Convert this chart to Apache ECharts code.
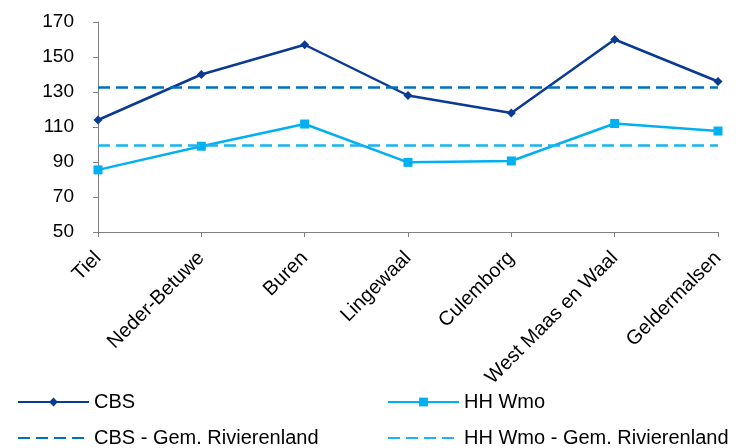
<!DOCTYPE html>
<html><head><meta charset="utf-8">
<script src="https://cdn.jsdelivr.net/npm/echarts@6/dist/echarts.min.js"></script>
<style>html,body{margin:0;padding:0;background:#fff}#c{width:746px;height:448px}</style>
</head><body><div id="c"></div>
<script>
const categories = ['Tiel','Neder-Betuwe','Buren','Lingewaal','Culemborg','West Maas en Waal','Geldermalsen'];
const cbs = [114, 140, 157, 128, 118, 160, 136];
const hhWmo = [85.5, 99, 111.7, 89.8, 90.6, 112, 107.7];
const cbsAvg = 132.9;
const hhWmoAvg = 99.4;
const yTicks = [50, 70, 90, 110, 130, 150, 170];
const seriesNames = ['CBS', 'HH Wmo', 'CBS - Gem. Rivierenland', 'HH Wmo - Gem. Rivierenland'];

const FONT = 'Liberation Sans, Arial, sans-serif';
const cDark = '#0b3a92', cLight = '#00b0f0', cDashDark = '#0070c0', cDashLight = '#1ab4f0';
const DASH = [12, 6];
const legendText = {fontSize: 20, color: '#000', fontFamily: FONT, lineHeight: 22};
function lg(name, left, top, hideSymbol) {
  return {
    orient: 'horizontal', left: left, top: top, itemWidth: 71, itemHeight: 11, itemGap: 0,
    padding: 0, textStyle: legendText,
    data: [hideSymbol ? {name: name, itemStyle: {opacity: 0}} : {name: name}]
  };
}
const chart = echarts.init(document.getElementById('c'));
chart.setOption({
  animation: false,
  textStyle: {fontFamily: FONT},
  grid: {left: 98, right: 28, top: 22, bottom: 216},
  xAxis: {
    type: 'category', data: categories, boundaryGap: false,
    axisLine: {lineStyle: {color: '#808080', width: 1}},
    axisTick: {show: true, length: 5, lineStyle: {color: '#808080'}},
    axisLabel: {rotate: 45, color: '#000', fontSize: 20, fontFamily: FONT, margin: 23, interval: 0}
  },
  yAxis: {
    type: 'value', min: yTicks[0], max: yTicks[yTicks.length-1], interval: 20,
    splitLine: {show: false},
    axisLine: {show: true, lineStyle: {color: '#808080', width: 1}},
    axisTick: {show: true, length: 5, inside: false, lineStyle: {color: '#808080'}},
    axisLabel: {color: '#000', fontSize: 19, fontFamily: FONT, margin: 24}
  },
  legend: [
    lg(seriesNames[0], 17, 391, false),
    lg(seriesNames[2], 17, 427, true),
    lg(seriesNames[1], 387, 391, false),
    lg(seriesNames[3], 387, 427, true)
  ],
  series: [
    {name: seriesNames[0], type: 'line', data: cbs, symbol: 'diamond', symbolSize: 9,
     lineStyle: {color: cDark, width: 2.5}, itemStyle: {color: cDark}},
    {name: seriesNames[1], type: 'line', data: hhWmo, symbol: 'rect', symbolSize: 9,
     lineStyle: {color: cLight, width: 2.5}, itemStyle: {color: cLight}},
    {name: seriesNames[2], type: 'line', data: [], symbol: 'none',
     lineStyle: {color: cDashDark, width: 2.5, type: DASH}, itemStyle: {color: cDashDark},
     markLine: {silent: true, symbol: 'none', label: {show: false},
       lineStyle: {color: cDashDark, width: 2.5, type: DASH}, data: [{yAxis: cbsAvg}]}},
    {name: seriesNames[3], type: 'line', data: [], symbol: 'none',
     lineStyle: {color: cDashLight, width: 2.5, type: DASH}, itemStyle: {color: cDashLight},
     markLine: {silent: true, symbol: 'none', label: {show: false},
       lineStyle: {color: cDashLight, width: 2.5, type: DASH}, data: [{yAxis: hhWmoAvg}]}}
  ]
});
</script></body></html>
